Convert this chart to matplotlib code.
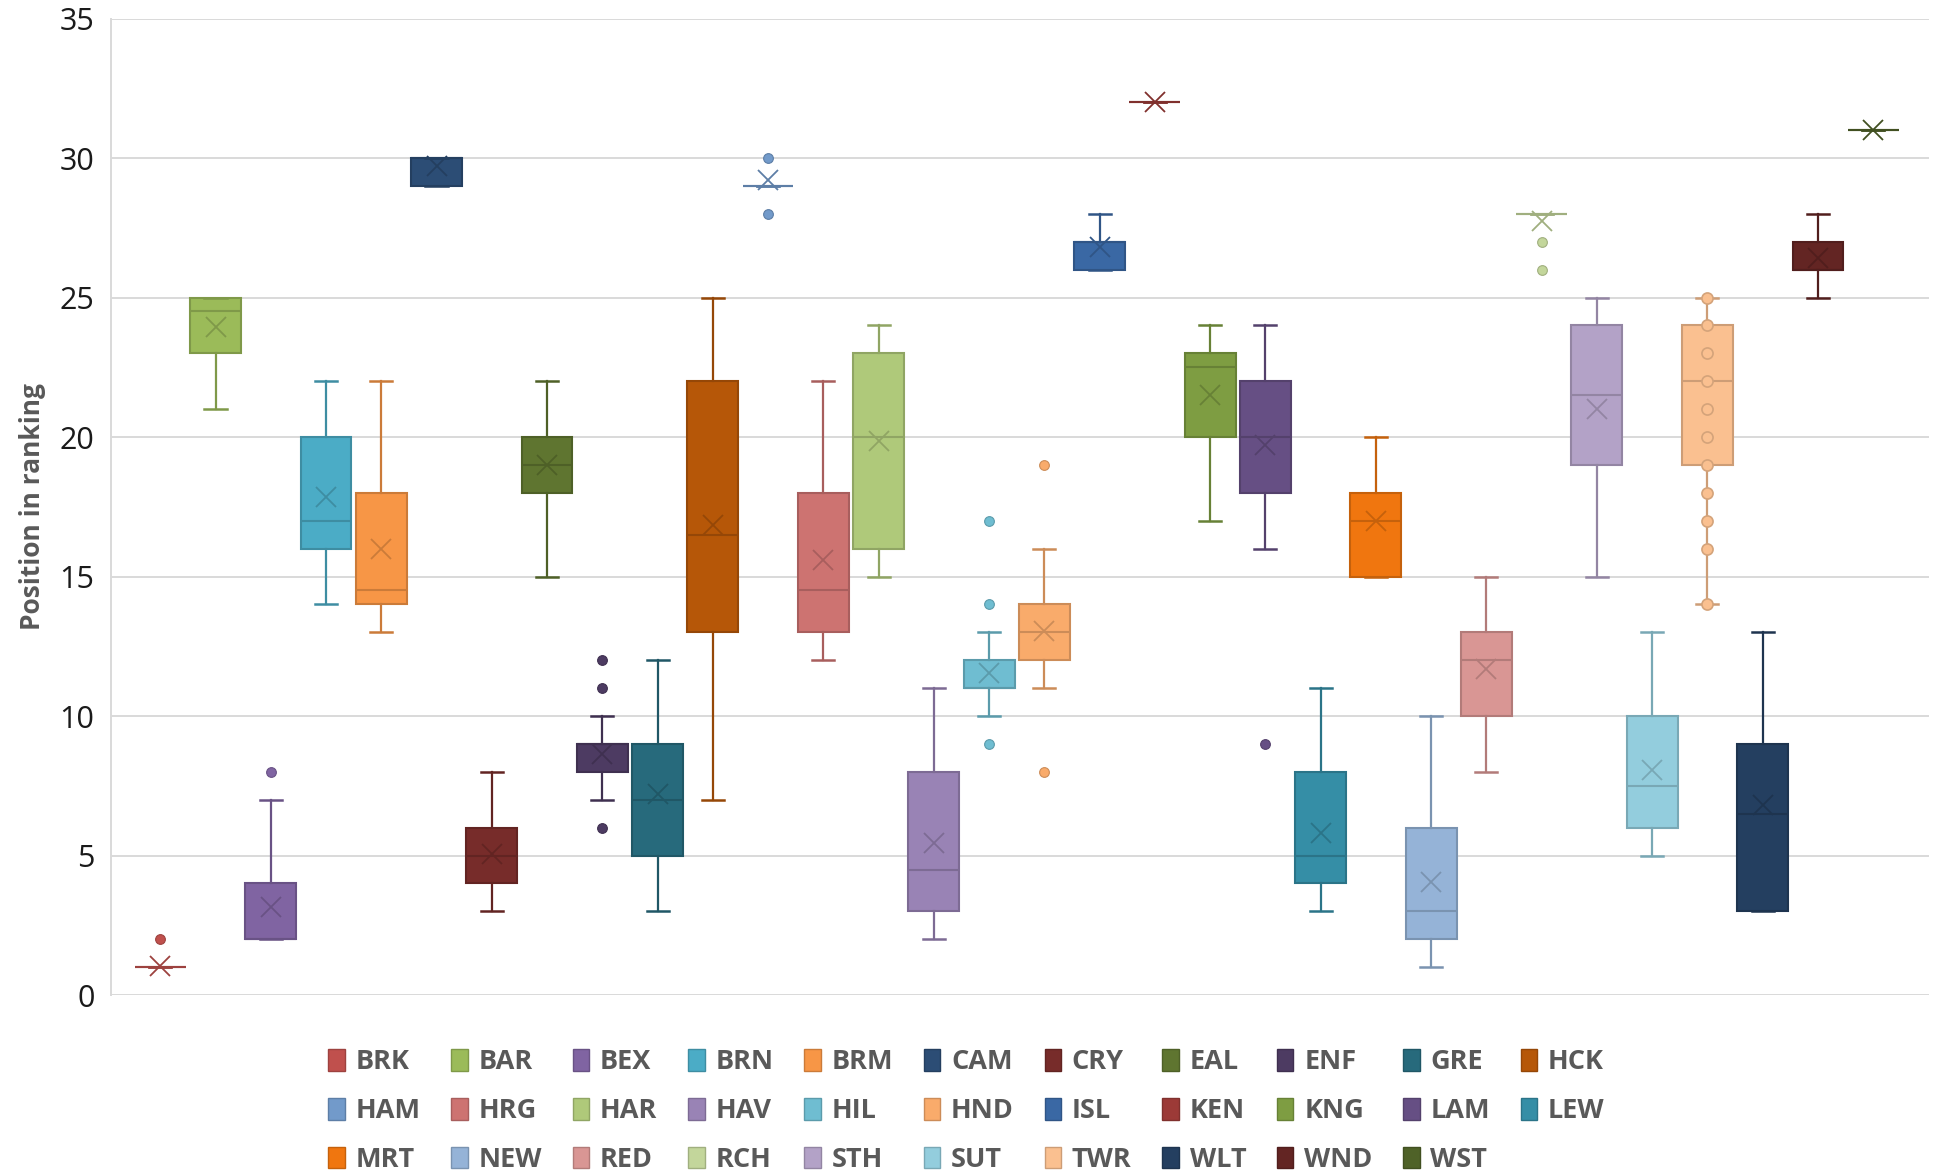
import matplotlib
matplotlib.use('Agg')
import matplotlib.pyplot as plt
import matplotlib.colors as mcolors
from matplotlib.patches import Patch

plt.rcParams['font.family'] = ['Open Sans', 'DejaVu Sans']

# borough codes, in series order
boroughs = ['BRK', 'BAR', 'BEX', 'BRN', 'BRM', 'CAM', 'CRY', 'EAL', 'ENF', 'GRE', 'HCK',
            'HAM', 'HRG', 'HAR', 'HAV', 'HIL', 'HND', 'ISL', 'KEN', 'KNG', 'LAM', 'LEW',
            'MRT', 'NEW', 'RED', 'RCH', 'STH', 'SUT', 'TWR', 'WLT', 'WND', 'WST']

colors = ['#C0504D', '#9BBB59', '#8064A2', '#4BACC6', '#F79646', '#2C4D75', '#772C2A',
          '#5F7530', '#4D3B62', '#276A7C', '#B65708', '#729ACA', '#CD7371', '#AFC97A',
          '#9983B5', '#6FBDD1', '#F9AB6B', '#3A68A4', '#9C3A37', '#7E9D42', '#664F84',
          '#358EA6', '#F0760F', '#95B3D7', '#D99694', '#C3D69B', '#B3A2C7', '#93CDDD',
          '#FAC090', '#243F60', '#632523', '#4F6228']

# box and whisker summary
q1 = [1, 23, 2, 16, 14, 29, 4, 18, 8, 5, 13,
      29, 13, 16, 3, 11, 12, 26, 32, 20, 18, 4,
      15, 2, 10, 28, 19, 6, 19, 3, 26, 31]
medians = [1, 24.5, 2, 17, 14.5, 30, 5, 19, 9, 7, 16.5,
           29, 14.5, 20, 4.5, 11, 13, 27, 32, 22.5, 20, 5,
           17, 3, 12, 28, 21.5, 7.5, 22, 6.5, 26, 31]
q3 = [1, 25, 4, 20, 18, 30, 6, 20, 9, 9, 22,
      29, 18, 23, 8, 12, 14, 27, 32, 23, 22, 8,
      18, 6, 13, 28, 24, 10, 24, 9, 27, 31]
whisker_low = [1, 21, 2, 14, 13, 29, 3, 15, 7, 3, 7,
               29, 12, 15, 2, 10, 11, 26, 32, 17, 16, 3,
               15, 1, 8, 28, 15, 5, 14, 3, 25, 31]
whisker_high = [1, 25, 7, 22, 22, 30, 8, 22, 10, 12, 25,
                29, 22, 24, 11, 13, 16, 28, 32, 24, 24, 11,
                20, 10, 15, 28, 25, 13, 25, 13, 28, 31]
means = [1.05, 23.95, 3.15, 17.85, 16.0, 29.7, 5.05, 19.0, 8.65, 7.2, 16.85,
         29.2, 15.6, 19.85, 5.45, 11.55, 13.05, 26.8, 32.0, 21.5, 19.7, 5.8,
         17.0, 4.05, 11.7, 27.75, 21.0, 8.05, None, 6.8, 26.4, 31.0]
outliers = [[2], [], [8], [], [], [], [], [], [6, 11, 12], [], [],
            [28, 30], [], [], [], [9, 14, 17], [8, 19], [], [], [], [9], [],
            [], [], [], [26, 27], [], [], [], [], [], []]
# TWR is drawn with its inner points shown
twr_points = [14, 16, 17, 18, 19, 20, 21, 22, 23, 24, 25]


def darker(c, f=0.82):
    r, g, b = mcolors.to_rgb(c)
    return (r * f, g * f, b * f)


fig = plt.figure(figsize=(19.35, 11.73), dpi=100)
ax = fig.add_axes([0.0574, 0.1517, 0.9395, 0.8325])

for i, name in enumerate(boroughs):
    stat = dict(label=name, q1=q1[i], med=medians[i], q3=q3[i],
                whislo=whisker_low[i], whishi=whisker_high[i], fliers=outliers[i])
    if means[i] is not None:
        stat['mean'] = means[i]
    edge = darker(colors[i])
    ax.bxp([stat], positions=[i], widths=0.92, capwidths=0.4, patch_artist=True,
           showmeans=means[i] is not None, manage_ticks=False,
           boxprops=dict(facecolor=colors[i], edgecolor=edge, linewidth=1.5),
           medianprops=dict(color=edge, linewidth=1.5),
           whiskerprops=dict(color=edge, linewidth=1.6),
           capprops=dict(color=edge, linewidth=1.8),
           flierprops=dict(marker='o', markerfacecolor=colors[i], markeredgecolor=edge,
                           markersize=7, markeredgewidth=0.8),
           meanprops=dict(marker='x', markeredgecolor=edge, markersize=15,
                          markeredgewidth=1.3))

twr = boroughs.index('TWR')
ax.plot([twr] * len(twr_points), twr_points, 'o', markerfacecolor=colors[twr],
        markeredgecolor=darker(colors[twr], 0.85), markersize=8, markeredgewidth=1.2,
        zorder=5)

ax.set_xlim(-0.89, 32.01)
ax.set_ylim(0, 35)
ax.set_yticks(range(0, 36, 5))
ax.set_xticks([])
ax.tick_params(axis='y', length=0, pad=12, labelsize=22, labelcolor='#1a1a1a')
ax.yaxis.grid(True, color='#D9D9D9', linewidth=1.4)
ax.set_axisbelow(True)
for side in ['top', 'right', 'bottom']:
    ax.spines[side].set_visible(False)
ax.spines['left'].set_color('#D9D9D9')
ax.spines['left'].set_linewidth(1.4)

ax.set_ylabel('Position in ranking', fontsize=19, fontweight='bold', color='#595959')
ax.yaxis.set_label_coords(-0.036, 0.5)

# legend: 3 rows of 11, filled row by row
handles = [Patch(facecolor=c, edgecolor=darker(c), linewidth=1.0) for c in colors]
order = [r * 11 + j for j in range(11) for r in range(3) if r * 11 + j < len(boroughs)]
fig.legend([handles[k] for k in order], [boroughs[k] for k in order],
           loc='upper center', bbox_to_anchor=(0.4995, 0.117), ncol=11, frameon=False,
           prop=dict(weight='bold', size=19.5), labelcolor='#595959',
           handlelength=0.6, handleheight=0.85, handletextpad=0.4, columnspacing=1.14,
           labelspacing=0.83, borderpad=0)

fig.savefig('out.png', dpi=100)
